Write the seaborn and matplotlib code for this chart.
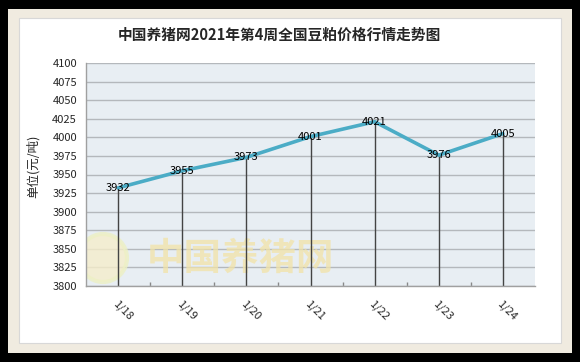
"""Weekly soybean meal price chart (week 4, 2021)."""

import matplotlib
matplotlib.use("Agg")
import matplotlib.pyplot as plt
import pandas as pd
import seaborn as sns
from matplotlib.patches import Ellipse, Rectangle

dates = ["1/18", "1/19", "1/20", "1/21", "1/22", "1/23", "1/24"]
prices = [3932, 3955, 3973, 4001, 4021, 3976, 4005]
y_ticks = list(range(3800, 4101, 25))

TITLE = "中国养猪网2021年第4周全国豆粕价格行情走势图"
Y_LABEL = "单位(元/吨)"
WATERMARK = "中国养猪网"

sns.set_theme(style="white")
plt.rcParams["font.family"] = ["Noto Sans CJK SC", "DejaVu Sans"]

df = pd.DataFrame({"date": dates, "price": prices})

fig = plt.figure(figsize=(5.8, 3.62), dpi=100)
fig.patch.set_facecolor("black")

# beige frame and white panel, in pixel units of the figure
W, H = 580, 362
fig.patches.append(Rectangle((8 / W, 9 / H), 564 / W, 344 / H, transform=fig.transFigure,
                             facecolor="#F0EBE0", edgecolor="none", zorder=-2))
fig.patches.append(Rectangle((19 / W, 19 / H), 542 / W, 325 / H, transform=fig.transFigure,
                             facecolor="white", edgecolor="#D8D8D8", linewidth=0.8, zorder=-1))

AX_W, AX_H = 449, 223
ax = fig.add_axes([86 / W, 1 - 286 / H, AX_W / W, AX_H / H])
ax.set_facecolor("#E8EEF3")

ax.set_ylim(3800, 4100)
ax.set_yticks(y_ticks)
ax.grid(axis="y", color="#B4B8BC", linewidth=1.0)
ax.set_axisbelow(True)

# faded watermark (round logo + site name)
ax.add_patch(Ellipse((17 / AX_W, 28 / AX_H), 48 / AX_W, 48 / AX_H, transform=ax.transAxes,
                     facecolor="#F5EDCB", edgecolor="#EDF0C4", linewidth=3, alpha=0.8, zorder=1))
ax.text(0.343, 0.126, WATERMARK, transform=ax.transAxes, ha="center", va="center",
        fontsize=27, fontweight="bold", color="#F2E3A8", alpha=0.75, zorder=1)

# drop lines from each point to the axis
ax.vlines(range(len(dates)), 3800, prices, color="#444444", linewidth=1.0, zorder=2)

sns.lineplot(data=df, x="date", y="price", ax=ax, color="#4BACC6", linewidth=2.6,
             sort=False, zorder=3)

for i, v in enumerate(prices):
    ax.text(i, v, str(v), ha="center", va="center", fontsize=8, color="black", zorder=4)

ax.set_xlim(-0.5, len(dates) - 0.5)
ax.set_xticks(range(len(dates)))
ax.set_xticklabels(dates, rotation=-45, ha="left", rotation_mode="anchor", fontsize=8)
ax.set_xticks([i + 0.5 for i in range(len(dates) - 1)], minor=True)
ax.tick_params(axis="x", which="major", length=0, pad=9)
ax.tick_params(axis="x", which="minor", direction="in", length=3, color="#888888", bottom=True)
ax.tick_params(axis="y", length=0, labelsize=8, pad=6.5)

for side in ["top", "right"]:
    ax.spines[side].set_visible(False)
for side in ["left", "bottom"]:
    ax.spines[side].set_color("#A0A0A0")
    ax.spines[side].set_linewidth(1.0)

ax.set_xlabel("")
ax.set_ylabel("")
fig.text(33 / W, 1 - 166 / H, Y_LABEL, rotation=90, ha="center", va="center", fontsize=9)
fig.text(279 / W, 1 - 35 / H, TITLE, ha="center", va="center", fontsize=10.6, fontweight="bold")

fig.savefig("out.png", dpi=100, facecolor=fig.get_facecolor())
